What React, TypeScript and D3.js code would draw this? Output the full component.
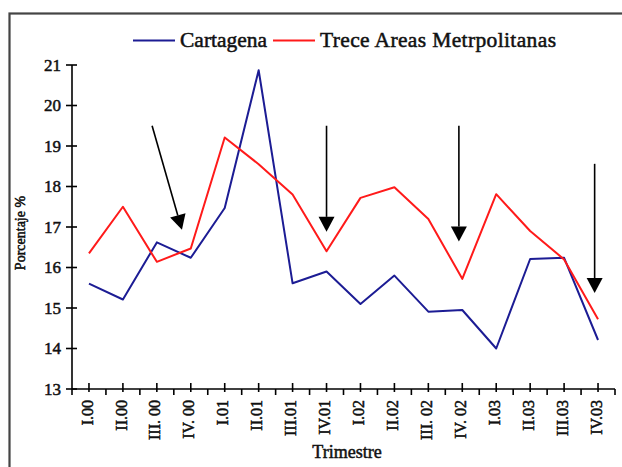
import React from "react";
import * as d3 from "d3";

const categories = ["I.00", "II.00", "III. 00", "IV. 00", "I.01", "II.01", "III.01", "IV.01", "I.02", "II.02", "III. 02", "IV. 02", "I.03", "II.03", "III.03", "IV.03"];
const cartagena = [15.6, 15.21, 16.62, 16.24, 17.47, 20.87, 15.61, 15.9, 15.1, 15.8, 14.91, 14.95, 14.0, 16.21, 16.24, 14.21];
const trece = [16.35, 17.5, 16.14, 16.47, 19.21, 18.55, 17.8, 16.4, 17.72, 17.98, 17.2, 15.72, 17.81, 16.9, 16.2, 14.72];
const yTicks = [13, 14, 15, 16, 17, 18, 19, 20, 21];
const seriesNames = ["Cartagena", "Trece Areas Metrpolitanas"];
// annotation arrows: [category index, value] start -> end
const arrowStart = [[1.86, 19.5], [7, 19.5], [10.9, 19.5], [14.9, 18.56]];
const arrowEnd = [[2.74, 16.93], [7, 16.88], [10.9, 16.64], [14.9, 15.37]];

const W = 622, H = 467;
const FONT = "'Liberation Serif', 'Times New Roman', serif";
const BLUE = "#1c1c94";
const RED = "#ff1a1a";

export default function App() {
  const x = d3.scaleBand<string>().domain(categories).range([72, 615]).paddingInner(0).paddingOuter(0);
  const bw = x.bandwidth();
  const cx = (c: string) => (x(c) as number) + bw / 2;
  const xi = d3.scaleLinear().domain([0, categories.length - 1]).range([cx(categories[0]), cx(categories[categories.length - 1])]);
  const y = d3.scaleLinear().domain([13, 21]).range([389, 65]);

  const line = d3.line<number>().x((_, i) => cx(categories[i])).y((d) => y(d));

  const boundaries = d3.range(categories.length + 1).map((k) => 72 + k * bw);

  const arrows = arrowStart.map((s, i) => {
    const x1 = xi(s[0]), y1 = y(s[1]);
    const x2 = xi(arrowEnd[i][0]), y2 = y(arrowEnd[i][1]);
    const ang = Math.atan2(y2 - y1, x2 - x1);
    const len = 15, half = 8;
    const bx = x2 - len * Math.cos(ang), by = y2 - len * Math.sin(ang);
    const px = -Math.sin(ang) * half, py = Math.cos(ang) * half;
    const head = `M${x2},${y2}L${bx + px},${by + py}L${bx - px},${by - py}Z`;
    return { x1, y1, bx, by, head };
  });

  const textStyle = { fill: "#111", stroke: "#111", strokeWidth: 0.5 } as const;

  return (
    <svg width={W} height={H} style={{ position: "fixed", left: 0, top: 0, background: "#fff" }} fontFamily={FONT}>
      <rect x={0} y={0} width={W} height={H} fill="#fff" />
      <rect x={9.5} y={13.5} width={W + 20} height={H + 20} fill="none" stroke="#444" strokeWidth={2.2} />

      {/* legend */}
      <line x1={133} x2={175} y1={40.5} y2={40.5} stroke={BLUE} strokeWidth={2} />
      <text x={180} y={47} fontSize={21.5} {...textStyle}>{seriesNames[0]}</text>
      <line x1={273} x2={315} y1={40.5} y2={40.5} stroke={RED} strokeWidth={2} />
      <text x={320} y={47} fontSize={21.5} textLength={236} lengthAdjust="spacing" {...textStyle}>{seriesNames[1]}</text>

      {/* y axis */}
      <line x1={72} x2={72} y1={y(21)} y2={y(13)} stroke="#000" strokeWidth={1.6} />
      {yTicks.map((t) => (
        <g key={t}>
          <line x1={66} x2={77} y1={y(t)} y2={y(t)} stroke="#000" strokeWidth={1.6} />
          <text x={61} y={y(t)} dy="0.35em" textAnchor="end" fontSize={17} {...textStyle}>{t}</text>
        </g>
      ))}
      <text transform={`translate(20,233) rotate(-90)`} textAnchor="middle" dy="0.35em" fontSize={14} {...textStyle}>Porcentaje %</text>

      {/* x axis */}
      <line x1={72} x2={615} y1={y(13)} y2={y(13)} stroke="#000" strokeWidth={1.6} />
      {boundaries.map((b, k) => (
        <line key={"b" + k} x1={b} x2={b} y1={y(13)} y2={y(13) + 6} stroke="#000" strokeWidth={1.6} />
      ))}
      {categories.map((c) => (
        <g key={c}>
          <line x1={cx(c)} x2={cx(c)} y1={y(13) - 6} y2={y(13) + 3} stroke="#000" strokeWidth={1.6} />
          <text transform={`translate(${cx(c) - 2},400) rotate(-90)`} textAnchor="end" dy="0.35em" fontSize={16} {...textStyle}>{c}</text>
        </g>
      ))}
      <text x={347} y={458} textAnchor="middle" fontSize={18} {...textStyle}>Trimestre</text>

      {/* series */}
      <path d={line(cartagena) || ""} fill="none" stroke={BLUE} strokeWidth={2} strokeLinejoin="round" />
      <path d={line(trece) || ""} fill="none" stroke={RED} strokeWidth={2} strokeLinejoin="round" />

      {/* arrows */}
      {arrows.map((a, i) => (
        <g key={"a" + i}>
          <line x1={a.x1} y1={a.y1} x2={a.bx} y2={a.by} stroke="#000" strokeWidth={1.6} />
          <path d={a.head} fill="#000" />
        </g>
      ))}
    </svg>
  );
}
